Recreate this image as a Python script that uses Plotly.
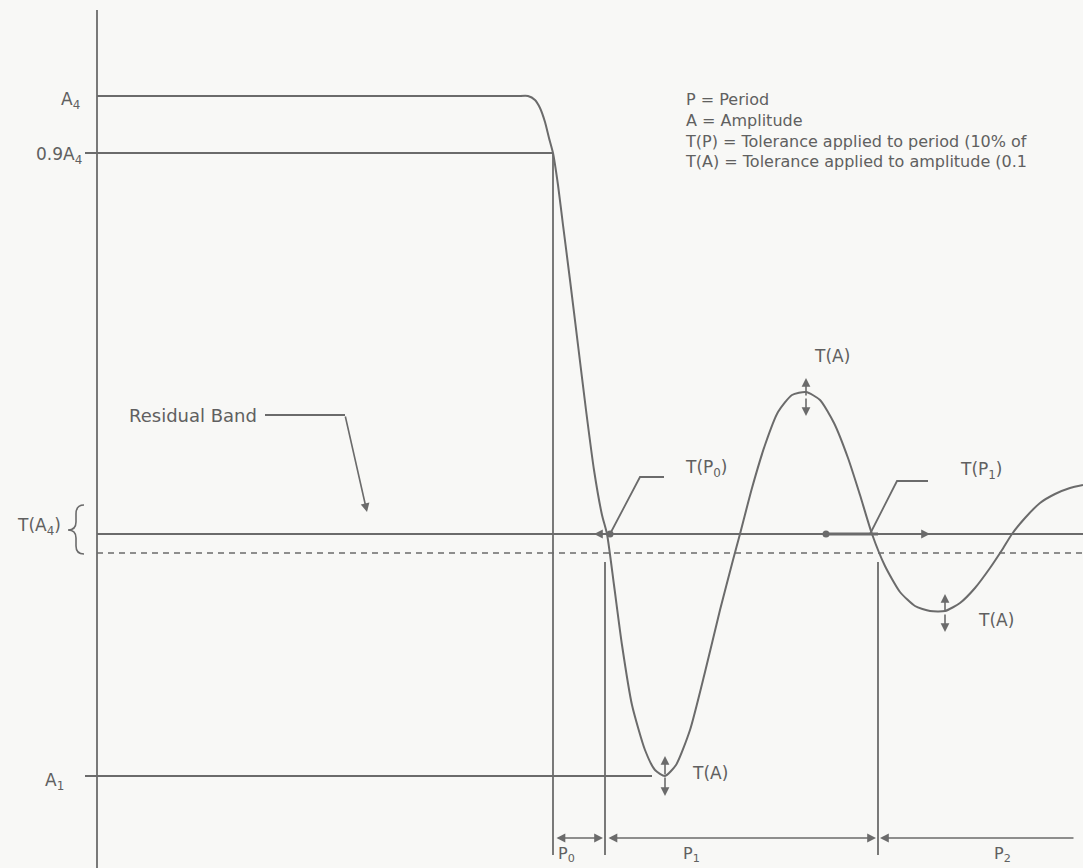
import plotly.graph_objects as go

# ---- data (time on x, amplitude on y; y grows downward) ----
curve_t = [520, 528, 535, 540, 545, 549, 553, 558, 563, 570, 578, 586, 594, 602, 607, 614, 622, 632,
           645, 655, 665, 676, 690, 705, 720, 733, 740, 752, 765, 778, 792, 806, 820, 834, 848,
           860, 872, 885, 900, 915, 930, 945, 960, 975, 990, 1002, 1012, 1025, 1040, 1055, 1070, 1083]
curve_a = [96, 96, 100, 108, 122, 138, 153, 185, 225, 280, 345, 410, 470, 515, 534, 585, 645, 705,
           750, 770, 776, 765, 730, 672, 610, 560, 534, 488, 445, 412, 395, 392, 400, 423, 458,
           495, 534, 566, 592, 606, 611, 611, 603, 588, 568, 550, 534, 518, 503, 494, 488, 485]

axis_t = 97
t_end = 1083
level_a4 = 96
level_09a4 = 153
level_residual = 534
level_residual_low = 553
level_a1 = 776

period_edges = [553, 605, 878, 1075]
period_labels = ["P<sub>0</sub>", "P<sub>1</sub>", "P<sub>2</sub>"]
period_label_t = [556, 681, 992]
period_arrow_a = 838

# tolerance-of-amplitude arrows
ta_t = [806, 665, 945]
ta_top = [378, 756, 594]
ta_bottom = [416, 796, 632]
ta_label_t = [812, 690, 976]
ta_label_a = [356, 773, 620]

legend_lines = ["P = Period",
                "A = Amplitude",
                "T(P) = Tolerance applied to period (10% of",
                "T(A) = Tolerance applied to amplitude (0.1"]

LC = "#6b6b6b"
TC = "#606060"
FONT = "DejaVu Sans, Verdana, sans-serif"
FS = 17

fig = go.Figure()

def seg(x, y, dash="solid", width=1.8):
    fig.add_trace(go.Scatter(x=x, y=y, mode="lines", hoverinfo="skip",
                             line=dict(color=LC, width=width, dash=dash), showlegend=False))

# vertical axis
seg([axis_t, axis_t], [10, 868])
# A4 level and 0.9 A4 level
seg([axis_t, 522], [level_a4, level_a4])
seg([85, period_edges[0]], [level_09a4, level_09a4])
# residual band
seg([axis_t, t_end], [level_residual, level_residual])
seg([axis_t, t_end], [level_residual_low, level_residual_low], dash="6px,5px", width=1.6)
# A1 level
seg([85, 652], [level_a1, level_a1])
# period boundary verticals
seg([period_edges[0], period_edges[0]], [level_09a4, 855])
seg([period_edges[1], period_edges[1]], [562, 855])
seg([period_edges[2], period_edges[2]], [562, 855])

# response curve
fig.add_trace(go.Scatter(x=curve_t, y=curve_a, mode="lines", hoverinfo="skip", showlegend=False,
                         line=dict(color=LC, width=2, shape="spline", smoothing=0.6)))

ann = []
def arrow(x0, y0, x1, y1, both=False, width=1.6, head=2):
    ann.append(dict(x=x1, y=y1, ax=x0, ay=y0, xref="x", yref="y", axref="x", ayref="y",
                    showarrow=True, arrowhead=head, startarrowhead=head, arrowsize=1.1,
                    startarrowsize=1.1, arrowwidth=width, arrowcolor=LC, text="",
                    arrowside="end+start" if both else "end"))

def label(x, y, text, size=FS, xanchor="left", align="left"):
    ann.append(dict(x=x, y=y, xref="x", yref="y", text=text, showarrow=False, align=align,
                    xanchor=xanchor, yanchor="middle", font=dict(size=size, color=TC, family=FONT)))

# period arrows and labels
arrow(period_edges[0] + 2, period_arrow_a, period_edges[1] - 2, period_arrow_a, both=True)
arrow(period_edges[1] + 2, period_arrow_a, period_edges[2] - 2, period_arrow_a, both=True)
arrow(period_edges[3], period_arrow_a, period_edges[2] + 2, period_arrow_a)
for lt, txt in zip(period_label_t, period_labels):
    label(lt, 854, txt, 16)

# amplitude tolerance arrows
for t, a0, a1, lt, la in zip(ta_t, ta_top, ta_bottom, ta_label_t, ta_label_a):
    arrow(t, (a0 + a1) / 2, t, a0)
    arrow(t, (a0 + a1) / 2, t, a1)
    label(lt, la, "T(A)")

# period tolerance marks on residual line
arrow(610, level_residual, 594, level_residual)
arrow(878, level_residual, 930, level_residual)
seg([826, 878], [level_residual, level_residual], width=3)
fig.add_trace(go.Scatter(x=[610, 826], y=[level_residual, level_residual], mode="markers",
                         marker=dict(color=LC, size=7), hoverinfo="skip", showlegend=False))

# T(P0) leader and label
seg([664, 640, 610], [477, 477, level_residual])
label(683, 468, "T(P<sub>0</sub>)")
# T(P1) leader and label
seg([928, 897, 870], [481, 481, level_residual])
label(958, 470, "T(P<sub>1</sub>)")

# residual band label and pointer
label(127, 415, "Residual Band", 18)
seg([265, 345], [415, 415])
arrow(345, 415, 367, 512)

# y labels
label(82, 100, "A<sub>4</sub>", FS, "right")
label(84, 155, "0.9A<sub>4</sub>", FS, "right")
label(66, 781, "A<sub>1</sub>", FS, "right")
label(63, 526, "T(A<sub>4</sub>)", FS, "right")

# brace
fig.add_shape(type="path", xref="x", yref="y",
              path="M 84 505 Q 76 505 76 514 L 76 522 Q 76 530 68 530 Q 76 530 76 538 L 76 546 Q 76 554 84 554",
              line=dict(color=LC, width=1.6))

# legend text block (one multi-line text)
label(683, 130, "<br>".join(legend_lines), 16)

fig.update_layout(
    width=1083, height=868,
    margin=dict(l=0, r=0, t=0, b=0),
    paper_bgcolor="#f8f8f6", plot_bgcolor="#f8f8f6",
    xaxis=dict(range=[0, 1083], visible=False, fixedrange=True),
    yaxis=dict(range=[868, 0], visible=False, fixedrange=True),
    annotations=ann,
    font=dict(family=FONT, color=TC),
)

fig.write_html("out.html", config={"displayModeBar": False},
               post_script="document.body.style.margin='0';")
